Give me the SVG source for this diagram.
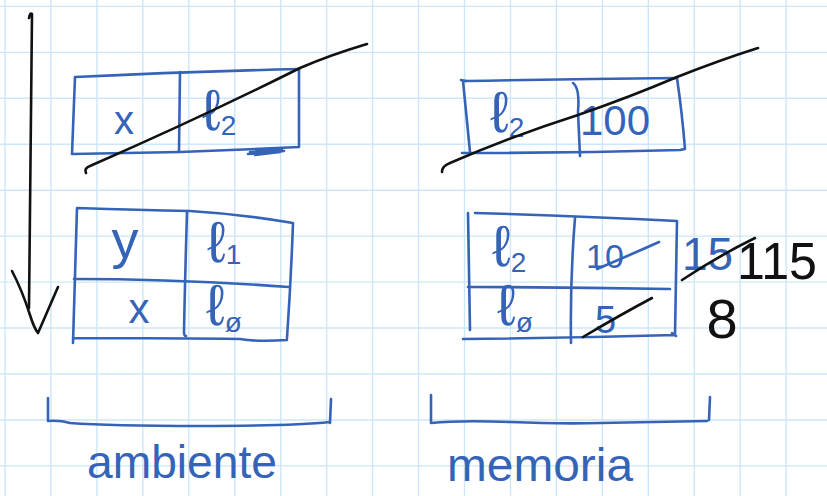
<svg xmlns="http://www.w3.org/2000/svg" width="827" height="496" viewBox="0 0 827 496">
<style>
.grid{stroke:#cde7f8;stroke-width:1.4;fill:none}
.b{stroke:#3463b8;stroke-width:2.6;fill:none;stroke-linecap:round;stroke-linejoin:round}
.k{stroke:#111;stroke-width:2.6;fill:none;stroke-linecap:round;stroke-linejoin:round}
.t{font-family:"Liberation Sans","DejaVu Sans",sans-serif;fill:#3463b8}
.tk{font-family:"Liberation Sans","DejaVu Sans",sans-serif;fill:#111}
.l{font-size:58px}
.sub{font-size:28px}
</style>
<rect width="827" height="496" fill="#fff"/>
<path class="grid" d="M5,0V496M50.95,0V496M96.9,0V496M142.85,0V496M188.8,0V496M234.75,0V496M280.7,0V496M326.65,0V496M372.6,0V496M418.55,0V496M464.5,0V496M510.45,0V496M556.4,0V496M602.35,0V496M648.3,0V496M694.25,0V496M740.2,0V496M786.15,0V496M0,6.4H827M0,52.35H827M0,98.3H827M0,144.25H827M0,190.2H827M0,236.15H827M0,282.1H827M0,328.05H827M0,374H827M0,419.95H827M0,465.9H827"/>

<g id="ambiente-top">
<path class="b" d="M75,77 Q180,72 299,69 L299,147 Q240,150 180,152 L72,154 L75,77"/>
<path class="b" d="M180,72 L179,151"/>
<path class="b" d="M248,154 L284,151 M250,152 L282,149 M255,155 L280,152"/>
<text class="t" x="124" y="134" font-size="40" text-anchor="middle">x</text>
<text class="t" x="202" y="130"><tspan class="l">ℓ</tspan><tspan class="sub" dy="5">2</tspan></text>
<path class="k" d="M86,173 Q84,168 90,166 Q200,118 300,68 Q330,55 367,44"/>
</g>

<g id="memoria-top">
<path class="b" d="M465,81 Q570,79 677,78 Q682,112 685,149 L680,150 Q570,153 462,153"/>
<path class="b" d="M461,80 L466,81 M463,81 L470,152"/>
<path class="b" d="M573,83 Q580,88 578,112 L580,156"/>
<text class="t" x="490" y="132"><tspan class="l">ℓ</tspan><tspan class="sub" dy="5">2</tspan></text>
<text class="t" x="580" y="135" font-size="42">100</text>
<path class="k" d="M442,172 Q442,166 450,163 Q515,135 578,115 Q630,97 677,77 Q720,60 758,48"/>
</g>

<g id="ambiente-bottom">
<path class="b" d="M77,208 Q140,210 190,211 Q240,214 293,223 Q291,280 287,338 M73,338 Q180,338 240,339 Q258,342 287,340 M77,208 L73,343"/>
<path class="b" d="M74,279 Q180,279 289,287"/>
<path class="b" d="M187,212 Q185,280 184,332 Q184,336 186,336"/>
<text class="t" x="125" y="258" font-size="54" text-anchor="middle">y</text>
<text class="t" x="207" y="262"><tspan class="l" font-size="50">ℓ</tspan><tspan class="sub" dy="2">1</tspan></text>
<text class="t" x="139" y="323" font-size="42" text-anchor="middle">x</text>
<text class="t" x="206" y="325"><tspan class="l">ℓ</tspan><tspan class="sub" dy="7">ø</tspan></text>
</g>

<g id="memoria-bottom">
<path class="b" d="M475,213 Q580,216 677,221 Q676,280 675,335 M672,333 L676,336 M463,339 Q570,338 675,335 M468,213 L470,330"/>
<path class="b" d="M468,287 Q570,287 670,289"/>
<path class="b" d="M575,218 Q570,280 571,343"/>
<text class="t" x="492" y="266"><tspan class="l">ℓ</tspan><tspan class="sub" dy="6">2</tspan></text>
<text class="t" x="586" y="268" font-size="34">10</text>
<path class="b" d="M597,269 Q630,255 659,242"/>
<text class="t" x="497" y="325"><tspan class="l">ℓ</tspan><tspan class="sub" dy="7">ø</tspan></text>
<text class="t" x="595" y="333" font-size="38">5</text>
<path class="k" d="M583,337 Q620,315 652,298"/>
<text class="t" x="682" y="270" font-size="46">15</text>
<path class="k" d="M682,280 Q720,255 755,238"/>
<text class="tk" x="737" y="279" font-size="52" textLength="80" lengthAdjust="spacingAndGlyphs">115</text>
<text class="tk" x="722" y="338" font-size="56" text-anchor="middle">8</text>
</g>

<g id="connectors">
<path class="k" d="M29,18 Q30,12 32,14 Q31,160 29,308"/>
<path class="k" d="M12,271 Q22,290 30,315 Q34,328 38,333 Q48,310 58,287"/>
</g>

<g id="label-ambiente">
<path class="b" d="M48,398 L48,421 Q60,420 70,423 Q110,426 200,426 Q290,426 330,422 M331,399 L330,423"/>
<text class="t" x="87" y="478" font-size="46" textLength="190" lengthAdjust="spacingAndGlyphs">ambiente</text>
</g>
<g id="label-memoria">
<path class="b" d="M431,395 L431,423 Q460,420 510,422 Q560,424 600,423 Q650,422 707,421 M710,397 L709,420"/>
<text class="t" x="447" y="481" font-size="46" textLength="186" lengthAdjust="spacingAndGlyphs">memoria</text>
</g>
</svg>
